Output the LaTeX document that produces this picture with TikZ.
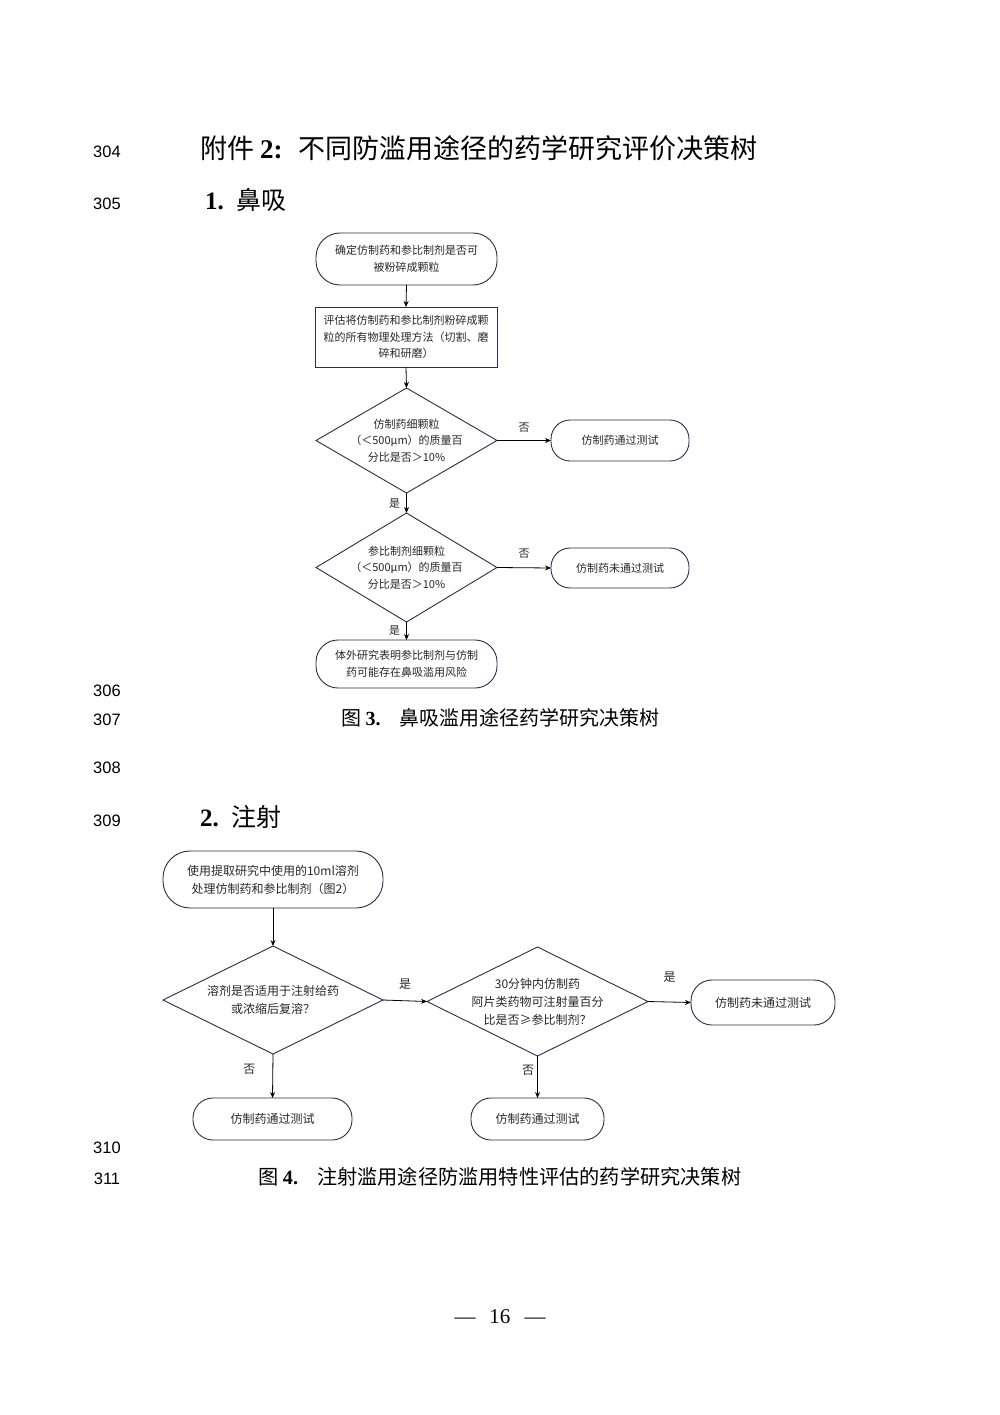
\documentclass[tikz,border=0pt]{standalone}
\usepackage{fontspec}
\setmainfont{Liberation Serif}
\newfontfamily\cjk{Noto Sans CJK SC}
\newfontfamily\arialf{Liberation Sans}
\usetikzlibrary{shapes.geometric,arrows.meta}
\definecolor{boxline}{RGB}{45,45,75}
\definecolor{txt}{RGB}{40,40,40}
\tikzset{
  base/.style={draw=boxline, line width=0.9pt, inner sep=0pt, outer sep=0pt, align=center, text=txt},
  stadium/.style={base, rectangle, rounded corners=#1},
  procbox/.style={base, rectangle},
  decide/.style={base, diamond},
  ftxt/.style={font=\cjk\fontsize{11}{16.5}\selectfont, text=txt, align=center, inner sep=0pt},
  gtxt/.style={font=\cjk\fontsize{12}{18}\selectfont, text=txt, align=center, inner sep=0pt},
  arr/.style={draw=black, line width=0.8pt, -{Stealth[length=6pt,width=5pt]}},
  lab/.style={font=\cjk\fontsize{11}{13}\selectfont, text=txt, inner sep=0pt},
  labb/.style={font=\cjk\fontsize{12}{14}\selectfont, text=txt, inner sep=0pt},
  lnum/.style={font=\arialf\fontsize{16.5}{18}\selectfont, text=black, inner sep=0pt},
}
\begin{document}
\begin{tikzpicture}[x=1pt,y=-1pt]
\useasboundingbox[fill=white] (0,0) rectangle (1000,1415);

% line numbers
\node[lnum] (n304) at (107,152) {304};
\node[lnum] (n305) at (107,204) {305};
\node[lnum] (n306) at (107,691) {306};
\node[lnum] (n307) at (107,720) {307};
\node[lnum] (n308) at (107,768) {308};
\node[lnum] (n309) at (107,821) {309};
\node[lnum] (n310) at (107,1148) {310};
\node[lnum] (n311) at (107,1179) {311};

% headings
\node[anchor=west, inner sep=0pt] (title) at (200,148)
  {\cjk\fontsize{27}{30}\selectfont 附件\hspace{6pt}{\rmfamily\bfseries 2:}\hspace{16pt}不同防滥用途径的药学研究评价决策树};
\node[anchor=west, inner sep=0pt] (h1) at (205,200)
  {{\rmfamily\bfseries\fontsize{25}{30}\selectfont 1.}\hspace{13pt}{\cjk\fontsize{25}{30}\selectfont 鼻吸}};
\node[anchor=west, inner sep=0pt] (h2) at (200,817)
  {{\rmfamily\bfseries\fontsize{25}{30}\selectfont 2.}\hspace{13pt}{\cjk\fontsize{25}{30}\selectfont 注射}};

% ---------- chart 1 ----------
\node[stadium=24pt, minimum width=181pt, minimum height=52pt] (a) at (406.5,259) {};
\node[ftxt] (at) at (a) {确定仿制药和参比制剂是否可\\被粉碎成颗粒};
\node[procbox, minimum width=182pt, minimum height=60pt] (b) at (406,337) {};
\node[ftxt] (bt) at (b) {评估将仿制药和参比制剂粉碎成颗\\粒的所有物理处理方法（切割、磨\\碎和研磨）};
\node[decide, minimum width=181pt, minimum height=105pt] (d1) at (406.5,440.5) {};
\node[ftxt] (d1t) at (d1) {仿制药细颗粒\\（＜500μm）的质量百\\分比是否＞10\%};
\node[stadium=19pt, minimum width=138pt, minimum height=41pt] (r1) at (620,440.5) {};
\node[ftxt] (r1t) at (r1) {仿制药通过测试};
\node[decide, minimum width=181pt, minimum height=109pt] (d2) at (406.5,567.5) {};
\node[ftxt] (d2t) at (d2) {参比制剂细颗粒\\（＜500μm）的质量百\\分比是否＞10\%};
\node[stadium=19pt, minimum width=138pt, minimum height=40pt] (r2) at (620,568) {};
\node[ftxt] (r2t) at (r2) {仿制药未通过测试};
\node[stadium=22pt, minimum width=181pt, minimum height=48pt] (e) at (406.5,664) {};
\node[ftxt] (et) at (e) {体外研究表明参比制剂与仿制\\药可能存在鼻吸滥用风险};

\draw[arr] (a.south) -- (b.north);
\draw[arr] (b.south) -- (d1.north);
\draw[arr] (d1.south) -- node[lab, left=6pt, pos=0.55] (y1) {是} (d2.north);
\draw[arr] (d1.east) -- node[lab, above=8pt, pos=0.5] (n1) {否} (r1.west);
\draw[arr] (d2.south) -- node[lab, left=6pt, pos=0.5] (y2) {是} (e.north);
\draw[arr] (d2.east) -- node[lab, above=9pt, pos=0.5] (n2) {否} (r2.west);

\node[inner sep=0pt] (cap3) at (500.5,718)
  {\cjk\fontsize{20}{22}\selectfont 图\hspace{4pt}{\rmfamily\bfseries 3.}\hspace{19pt}鼻吸滥用途径药学研究决策树};

% ---------- chart 2 ----------
\node[stadium=27pt, minimum width=220pt, minimum height=57pt] (f) at (273,879.5) {};
\node[gtxt] (ft) at (f) {使用提取研究中使用的10ml溶剂\\处理仿制药和参比制剂（图2）};
\node[decide, minimum width=220pt, minimum height=108pt] (g) at (273,1000) {};
\node[gtxt] (gt) at (g) {溶剂是否适用于注射给药\\或浓缩后复溶？};
\node[decide, minimum width=221pt, minimum height=109pt] (h) at (537.5,1001.5) {};
\node[gtxt] (ht) at (h) {30分钟内仿制药\\阿片类药物可注射量百分\\比是否≥参比制剂？};
\node[stadium=21pt, minimum width=144pt, minimum height=45pt] (i) at (763,1002.5) {};
\node[gtxt] (it) at (i) {仿制药未通过测试};
\node[stadium=20pt, minimum width=159pt, minimum height=42pt] (j) at (272.5,1119) {};
\node[gtxt] (jt) at (j) {仿制药通过测试};
\node[stadium=20pt, minimum width=133pt, minimum height=42pt] (k) at (537.5,1119) {};
\node[gtxt] (kt) at (k) {仿制药通过测试};

\draw[arr] (f.south) -- (g.north);
\draw[arr] (g.east) -- node[labb, above=11pt, pos=0.5] (y3) {是} (h.west);
\draw[arr] (h.east) -- node[labb, above=19pt, pos=0.5] (y4) {是} (i.west);
\draw[arr] (g.south) -- node[labb, left=17pt, pos=0.35] (n3) {否} (j.north);
\draw[arr] (h.south) -- node[labb, left=3pt, pos=0.33] (n4) {否} (k.north);

\node[inner sep=0pt] (cap4) at (500,1177)
  {\cjk\fontsize{20.2}{24}\selectfont 图\hspace{4pt}{\rmfamily\bfseries 4.}\hspace{19pt}注射滥用途径防滥用特性评估的药学研究决策树};

% page number
\node[inner sep=0pt, font=\rmfamily\fontsize{21}{24}\selectfont] (pg) at (500,1317) {—\hspace{14pt}16\hspace{14pt}—};
\end{tikzpicture}
\end{document}
